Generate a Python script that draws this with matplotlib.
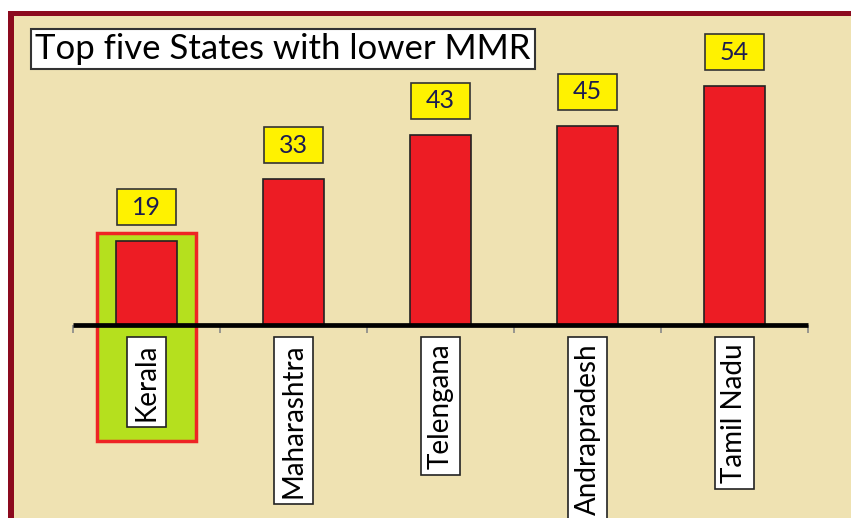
import matplotlib.pyplot as plt
from matplotlib.patches import Rectangle

states = ["Kerala", "Maharashtra", "Telengana", "Andrapradesh", "Tamil Nadu"]
mmr = [19, 33, 43, 45, 54]
title = "Top five States with lower MMR"

W, H = 851, 518
bg = "#EFE2B2"
border = "#8C0A1E"
bar_red = "#ED1C24"

plt.rcParams['font.family'] = ['Lato', 'DejaVu Sans']

fig = plt.figure(figsize=(W / 100, H / 100), dpi=100)
fig.patch.set_facecolor("white")

# dark red frame on top and left, beige panel inside
fig.patches.append(Rectangle((8 / W, 0), 1, (H - 11) / H, transform=fig.transFigure,
                             facecolor=border, edgecolor="none", zorder=-2))
fig.patches.append(Rectangle((14 / W, 0), 1, (H - 16) / H, transform=fig.transFigure,
                             facecolor=bg, edgecolor="none", zorder=-1))

ax = fig.add_axes([0, 0, 1, 1])
ax.set_zorder(1)
ax.set_facecolor("none")
px_x = 147.0
px_y = 4.43
axis_y = 325
ax.set_xlim(-0.5 - 73 / px_x, 4.5 + (W - 808) / px_x)
ax.set_ylim(-(H - axis_y) / px_y, axis_y / px_y)
ax.axis("off")

x = list(range(len(states)))

# highlight for Kerala
ax.add_patch(Rectangle((-0.337, -26.2), 0.674, mmr[0] + 1.8 + 26.2, facecolor="#B5E01E",
                       edgecolor="#EE2424", linewidth=2.5, zorder=1))

ax.bar(x, mmr, width=0.41, color=bar_red, edgecolor="#222222", linewidth=1.2, zorder=2)

# axis line and ticks
ax.plot([-0.5, 4.5], [0, 0], color="black", linewidth=3.4, zorder=3, solid_capstyle="butt")
ax.vlines([i - 0.5 for i in range(len(states) + 1)], -1.9, 0, color="#888888",
          linewidth=1.2, zorder=2)

# value labels in yellow boxes
bw, bh = 0.4, 8.2
for xi, v in zip(x, mmr):
    cy = v + 7.6
    ax.add_patch(Rectangle((xi - bw / 2, cy - bh / 2), bw, bh, facecolor="#FFF200",
                           edgecolor="#333333", linewidth=1.2, zorder=4))
    ax.text(xi, cy, str(v), ha="center", va="center", fontsize=18, color="#1C1C50",
            zorder=5)

for xi, s in zip(x, states):
    ax.text(xi, -4.2, s, rotation=90, ha="center", va="top", fontsize=20, color="black",
            zorder=4,
            bbox=dict(boxstyle="square,pad=0.22", facecolor="white", edgecolor="#222222",
                      linewidth=1.2))

fig.text(35 / W, 1 - 49 / H, title, ha="left", va="center", fontsize=25, color="black",
         zorder=5,
         bbox=dict(boxstyle="square,pad=0.12", facecolor="white", edgecolor="#333333",
                   linewidth=1.5))

fig.savefig("out.png", dpi=100, facecolor=fig.get_facecolor())
